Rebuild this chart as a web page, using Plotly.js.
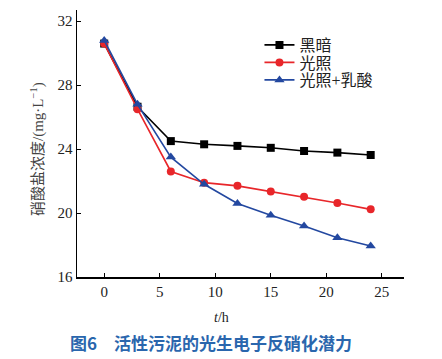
<!DOCTYPE html>
<html><head><meta charset="utf-8">
<script src="https://cdn.plot.ly/plotly-3.0.1.min.js"></script>
<style>html,body{margin:0;padding:0;background:#fff}#chart{width:442px;height:359px}</style>
</head><body><div id="chart"></div>
<script>
const hours = [0, 3, 6, 9, 12, 15, 18, 21, 24];
const darkValues = [30.6, 26.65, 24.5, 24.3, 24.2, 24.08, 23.88, 23.78, 23.63];
const lightValues = [30.6, 26.5, 22.6, 21.9, 21.7, 21.35, 21.02, 20.63, 20.23];
const lightLacticValues = [30.8, 26.8, 23.5, 21.8, 20.6, 19.87, 19.19, 18.46, 17.94];
const seriesNames = ['黑暗', '光照', '光照+乳酸'];
const xTicks = [0, 5, 10, 15, 20, 25];
const yTicks = [16, 20, 24, 28, 32];

const serif = 'Liberation Serif, Times New Roman, Noto Sans CJK SC, serif';
const cjk = 'Liberation Serif, Noto Sans CJK SC, serif';

const traces = [
  {x: hours, y: darkValues, name: seriesNames[0], mode: 'lines+markers', legend: 'legend',
   line: {color: '#000000', width: 1.6}, marker: {symbol: 'square', size: 8, color: '#000000'}},
  {x: hours, y: lightValues, name: seriesNames[1], mode: 'lines+markers', legend: 'legend2',
   line: {color: '#e8262a', width: 1.6}, marker: {symbol: 'circle', size: 8, color: '#e8262a'}},
  {x: hours, y: lightLacticValues, name: seriesNames[2], mode: 'lines+markers', legend: 'legend3',
   line: {color: '#2348a0', width: 1.6}, marker: {symbol: 'triangle-up', size: 9, color: '#2348a0'}}
];

function leg(yPx) {
  return {x: 0.558, y: (277 - yPx) / 267, xanchor: 'left', yanchor: 'middle', bgcolor: 'rgba(0,0,0,0)',
    font: {family: cjk, size: 16, color: '#222'}, itemwidth: 30};
}

const layout = {
  width: 442, height: 359,
  margin: {l: 77, r: 38, t: 10, b: 82},
  paper_bgcolor: '#fff', plot_bgcolor: '#fff',
  showlegend: true,
  legend: leg(45), legend2: leg(62.5), legend3: leg(80),
  xaxis: {range: [-2.45, 27], tickvals: xTicks, ticks: 'inside', ticklen: 4, tickcolor: '#000',
    showline: true, linecolor: '#000', linewidth: 1.5, showgrid: false, zeroline: false,
    tickfont: {family: serif, size: 15, color: '#222'}, mirror: false},
  yaxis: {range: [16, 32.7], tickvals: yTicks, ticks: 'inside', ticklen: 4, tickcolor: '#000',
    showline: true, linecolor: '#000', linewidth: 1.5, showgrid: false, zeroline: false,
    tickfont: {family: serif, size: 15, color: '#222'}, mirror: false},
  annotations: [
    {xref: 'paper', yref: 'paper', x: 0.5 + (221 - 240.5) / 327, y: -40 / 267, yanchor: 'middle',
     text: '<i>t</i>/h', showarrow: false, font: {family: serif, size: 14, color: '#222'}},
    {xref: 'paper', yref: 'paper', x: (38 - 77) / 327, y: (277 - 149) / 267, xanchor: 'center', yanchor: 'middle',
     textangle: -90, text: '硝酸盐浓度/(mg·L<sup>−1</sup>)', showarrow: false,
     font: {family: cjk, size: 15, color: '#444'}},
    {xref: 'paper', yref: 'paper', x: (211 - 77) / 327, y: (277 - 342) / 267, xanchor: 'center', yanchor: 'middle',
     text: '<b>图6　活性污泥的光生电子反硝化潜力</b>', showarrow: false,
     font: {family: 'Noto Sans CJK SC, sans-serif', size: 17, color: '#2a66ad'}}
  ]
};

Plotly.newPlot('chart', traces, layout, {displayModeBar: false, staticPlot: true});
</script>
</body></html>
